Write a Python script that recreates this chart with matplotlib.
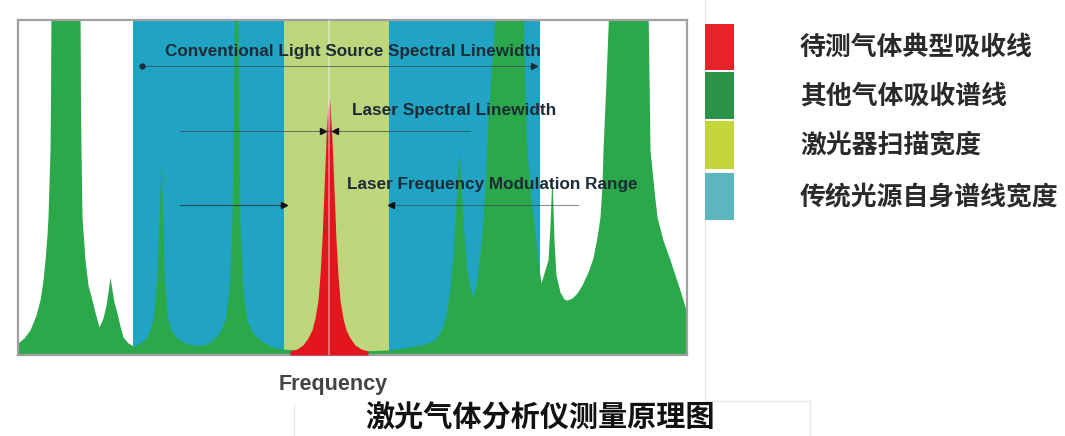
import matplotlib
matplotlib.use('Agg')
import matplotlib.pyplot as plt
from matplotlib.patches import Rectangle
import numpy as np

# spectrum outlines: frequency (arb. units), absorbance (0..1, >1 is clipped)
other_freq = [18, 24, 30, 36, 40, 43, 45, 47, 48, 49, 50, 50.5, 51, 80, 80.5, 81, 82, 85, 88, 92, 96, 99,
              103, 106, 108, 110, 112, 114, 117, 120, 123, 128, 133, 137, 142, 147, 150, 153, 155, 157, 159,
              161, 163, 164, 166, 168, 172, 177, 185, 197, 207, 213, 220, 225, 228, 230, 232, 233, 234.5,
              237.5, 239, 240, 242, 244, 247, 252, 260, 270, 280, 300, 330, 360, 390, 410, 425, 435, 443,
              447, 450, 453, 455, 457, 459, 461, 463, 465, 467, 470, 473, 476, 480, 483, 485, 488, 492, 496,
              523, 525, 527, 531, 535, 538, 541, 548, 550, 552, 554, 556, 560, 564, 567, 572, 577, 582, 588,
              593, 597, 600, 602, 603, 606, 609, 648, 650, 654, 657, 663, 670, 675, 680, 687]
other_abs = [0.036, 0.051, 0.075, 0.119, 0.164, 0.224, 0.284, 0.358, 0.412, 0.507, 0.612, 0.761, 1.05, 1.05,
             0.761, 0.612, 0.412, 0.284, 0.209, 0.164, 0.116, 0.084,
             0.110, 0.149, 0.188, 0.233, 0.194, 0.158, 0.125, 0.087, 0.054, 0.036, 0.027, 0.030, 0.039,
             0.054, 0.075, 0.104, 0.164, 0.245, 0.403,
             0.576, 0.403, 0.245, 0.164, 0.104, 0.069, 0.051, 0.036, 0.027, 0.033, 0.045, 0.069, 0.104,
             0.164, 0.245, 0.403, 0.642, 1.05,
             1.05, 0.642, 0.403, 0.245, 0.164, 0.104, 0.069, 0.045, 0.027, 0.018, 0.015, 0.012, 0.012,
             0.015, 0.024, 0.033, 0.045, 0.084,
             0.134, 0.203, 0.299, 0.403, 0.507, 0.621, 0.507, 0.403, 0.319, 0.254, 0.200, 0.173, 0.209,
             0.304, 0.403, 0.501, 0.701, 0.881, 1.05,
             1.05, 0.761, 0.612, 0.463, 0.364, 0.278, 0.215, 0.284, 0.388, 0.537, 0.343, 0.239, 0.188,
             0.167, 0.164, 0.170, 0.185, 0.209, 0.248,
             0.290, 0.352, 0.412, 0.507, 0.612, 0.821, 1.05, 1.05, 0.612, 0.493, 0.412, 0.343, 0.284,
             0.239, 0.194, 0.125]

target_freq = [290, 297, 303, 308, 312, 315, 318, 320, 322, 324, 326, 328, 329,
               330, 332, 334, 336, 338, 340, 343, 346, 350, 355, 361, 368]
target_abs = [0.012, 0.018, 0.030, 0.051, 0.075, 0.110, 0.164, 0.239, 0.343, 0.493, 0.642, 0.746, 0.767,
              0.746, 0.642, 0.493, 0.343, 0.239, 0.164, 0.110, 0.075, 0.051, 0.030, 0.018, 0.012]

conventional_band = (133, 540)
laser_scan_band = (284, 389)
laser_center = 329
laser_linewidth = (323, 335)
modulation_range = (284, 391)

legend_labels = ['待测气体典型吸收线', '其他气体吸收谱线', '激光器扫描宽度', '传统光源自身谱线宽度']
legend_colors = ['#e6222a', '#2b9246', '#c4d53c', '#5cb6bd']

W, H = 1065, 436
fig = plt.figure(figsize=(W / 100, H / 100), dpi=100)

ax = fig.add_axes([18 / W, (H - 355) / H, 669 / W, 335 / H])
ax.set_xlim(18, 687)
ax.set_ylim(0, 1)
ax.set_xticks([])
ax.set_yticks([])
for s in ax.spines.values():
    s.set_color('#a0a0a0')
    s.set_linewidth(1.6)

ax.axvspan(*conventional_band, color='#21a4c4', lw=0, zorder=1)
ax.axvspan(*laser_scan_band, color='#bdd67c', lw=0, zorder=1)
ax.fill_between(other_freq, 0, other_abs, color='#2ba84a', lw=0, zorder=2)
red = ax.fill_between(target_freq, 0, target_abs, color='#e3151d', lw=0, zorder=3)

# pale tip of the laser line
grad = np.linspace(0, 1, 64).reshape(-1, 1)
tip = ax.imshow(grad, extent=(318, 340, 0.62, 0.78), origin='lower', cmap='Greys_r',
                aspect='auto', alpha=grad * 0.75, zorder=3.5)
tip.set_clip_path(red.get_paths()[0], transform=ax.transData)
ax.set_xlim(18, 687)
ax.set_ylim(0, 1)

ax.axvline(laser_center, color='white', alpha=0.45, lw=1.2, zorder=4)

tfont = dict(family='Liberation Sans', weight='bold', color='#1c2b36', va='center', ha='left', zorder=6)
lc = '#34464f'

# conventional light source linewidth
ax.text(165, 0.907, 'Conventional Light Source Spectral Linewidth', fontsize=12.3, **tfont)
ax.plot(conventional_band[0] + 9, 0.863, 'o', color='#1c2b36', ms=3.5, zorder=6)
ax.plot([conventional_band[0] + 9, conventional_band[1] - 6], [0.863, 0.863], color=lc, lw=0.7, alpha=0.7, zorder=5)
ax.plot(conventional_band[1] - 6, 0.863, '>', color='#1c2b36', ms=4, zorder=6)

# laser linewidth
ax.text(352, 0.731, 'Laser Spectral Linewidth', fontsize=12.4, **tfont)
ax.plot([180, 470], [0.669, 0.669], color=lc, lw=0.7, alpha=0.7, zorder=5)
ax.plot(laser_linewidth[0], 0.669, '>', color='#111111', ms=4.5, zorder=6)
ax.plot(laser_linewidth[1], 0.669, '<', color='#111111', ms=4.5, zorder=6)

# modulation range
ax.text(347, 0.510, 'Laser Frequency Modulation Range', fontsize=12.3, **tfont)
ax.plot([180, modulation_range[0]], [0.448, 0.448], color=lc, lw=0.8, zorder=5)
ax.plot([modulation_range[1], 578], [0.448, 0.448], color=lc, lw=0.8, alpha=0.6, zorder=5)
ax.plot(modulation_range[0], 0.448, '>', color='#111111', ms=4.5, zorder=6)
ax.plot(modulation_range[1], 0.448, '<', color='#111111', ms=4.5, zorder=6)

# faint page boxes behind everything
ov = fig.add_axes([0, 0, 1, 1], zorder=-1)
ov.set_xlim(0, W)
ov.set_ylim(H, 0)
ov.axis('off')
faint = '#e8e8e8'
ov.plot([705, 705], [0, 401], color=faint, lw=1)
ov.plot([705, 810], [401, 401], color=faint, lw=1)
ov.plot([810, 810], [401, 436], color=faint, lw=1)
ov.plot([294, 294], [405, 436], color=faint, lw=1)

# legend and captions in pixel coordinates
ax2 = fig.add_axes([0, 0, 1, 1], zorder=5)
ax2.set_xlim(0, W)
ax2.set_ylim(H, 0)
ax2.axis('off')
tops = [24, 72, 121, 173]
bottoms = [70, 119, 169, 220]
centers = [47, 96, 145, 198]
for lab, col, t, b, c in zip(legend_labels, legend_colors, tops, bottoms, centers):
    ax2.add_patch(Rectangle((705, t), 29, b - t, color=col, lw=0))
    ax2.text(800, c, lab, fontsize=18.6, family=['Noto Sans CJK SC', 'DejaVu Sans'], weight='bold',
             color='#2a2a2a', va='center', ha='left')

ax2.text(333, 384, 'Frequency', fontsize=15.5, family='Liberation Sans', weight='bold',
         color='#444444', ha='center', va='center')
ax2.text(540, 418, '激光气体分析仪测量原理图', fontsize=21, family=['Noto Sans CJK SC', 'DejaVu Sans'],
         weight='bold', color='#111111', ha='center', va='center')

fig.savefig('out.png', dpi=100)
